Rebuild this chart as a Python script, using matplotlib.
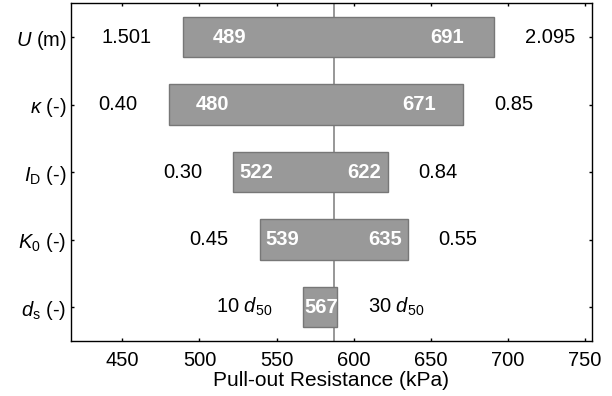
#!/usr/bin/env python3

import numpy as np
import matplotlib
matplotlib.use("Agg")
import matplotlib.pyplot as plt

# tornado chart data (top row first)
params = [r"$U$ (m)", r"$\kappa$ (-)", r"$I_\mathrm{D}$ (-)",
          r"$K_0$ (-)", r"$d_\mathrm{s}$ (-)"]
low_res = [489, 480, 522, 539, 567]
high_res = [691, 671, 622, 635, 589]
low_inputs = ["1.501", "0.40", "0.30", "0.45", r"10 $d_{50}$"]
high_inputs = ["2.095", "0.85", "0.84", "0.55", r"30 $d_{50}$"]
base_res = 587


def main():
    plt.rcParams["font.family"] = ["Liberation Sans", "DejaVu Sans"]
    plt.rcParams["mathtext.fontset"] = "custom"
    plt.rcParams["mathtext.rm"] = "Liberation Sans"
    plt.rcParams["mathtext.it"] = "Liberation Sans:italic"
    plt.rcParams["mathtext.bf"] = "Liberation Sans:bold"
    plt.rcParams["font.size"] = 14.5

    fig = plt.figure(figsize=(6.12, 3.96), dpi=100)
    ax = fig.add_axes([0.1155, 0.139, 0.8513, 0.8527])

    n = len(params)
    y = np.arange(n, 0, -1)
    lo = np.array(low_res)
    hi = np.array(high_res)

    ax.axvline(base_res, color="#858585", lw=1.2, zorder=1)
    ax.barh(y, hi - lo, left=lo, height=0.6, color="#999999",
            edgecolor="#777777", linewidth=1.0, zorder=2)

    gap = 20  # kPa between bar end and input value labels
    for i in range(n):
        w = hi[i] - lo[i]
        pad = max(0.8, 0.149 * w - 10.8)
        ax.text(lo[i] + pad, y[i], str(lo[i]), color="white", weight="bold",
                ha="left", va="center", zorder=3)
        if w > 40:
            ax.text(hi[i] - pad, y[i], str(hi[i]), color="white",
                    weight="bold", ha="right", va="center", zorder=3)
        ax.text(lo[i] - gap, y[i], low_inputs[i], ha="right", va="center")
        ax.text(hi[i] + gap, y[i], high_inputs[i], ha="left", va="center")

    ax.set_xlim(416.5, 754.3)
    ax.set_ylim(0.5, n + 0.5)
    ax.set_xticks(np.arange(450, 751, 50))
    ax.set_yticks(y)
    ax.set_yticklabels(params)
    ax.set_xlabel("Pull-out Resistance (kPa)", fontsize=15, labelpad=1)
    ax.tick_params(direction="in", top=True, right=True, length=2.5,
                   width=1.0)
    ax.tick_params(axis="x", pad=7)
    ax.tick_params(axis="y", pad=3)
    for s in ax.spines.values():
        s.set_linewidth(1.0)

    fig.savefig("out.png", dpi=100)


if __name__ == "__main__":
    main()
